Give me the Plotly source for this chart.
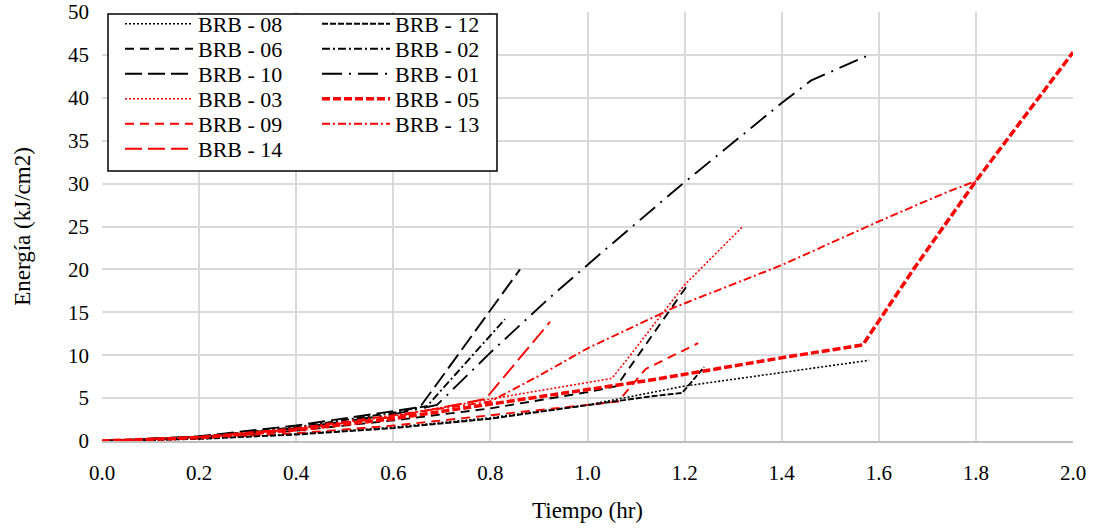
import plotly.graph_objects as go

# ---- data (Tiempo in hr, Energía in kJ/cm2) ----
names = ["BRB - 08", "BRB - 06", "BRB - 10", "BRB - 03", "BRB - 09", "BRB - 14",
         "BRB - 12", "BRB - 02", "BRB - 01", "BRB - 05", "BRB - 13"]

t_08 = [0, 0.2, 0.4, 0.6, 0.8, 1.0, 1.2, 1.4, 1.58]
e_08 = [0, 0.25, 0.8, 1.6, 2.7, 4.2, 6.4, 8.0, 9.4]

t_06 = [0, 0.2, 0.4, 0.6, 0.8, 1.0, 1.06, 1.205]
e_06 = [0, 0.35, 1.2, 2.4, 3.8, 5.7, 6.4, 18.1]

t_10 = [0, 0.2, 0.4, 0.6, 0.655, 0.861]
e_10 = [0, 0.55, 1.8, 3.5, 3.95, 20.0]

t_03 = [0, 0.2, 0.4, 0.6, 0.79, 1.05, 1.08, 1.2, 1.318]
e_03 = [0, 0.4, 1.4, 2.9, 4.8, 7.3, 9.4, 18.2, 24.9]

t_09 = [0, 0.2, 0.4, 0.6, 0.8, 1.0, 1.063, 1.12, 1.228]
e_09 = [0, 0.3, 0.9, 1.8, 3.0, 4.2, 4.6, 8.4, 11.4]

t_14 = [0, 0.2, 0.4, 0.6, 0.79, 0.923]
e_14 = [0, 0.4, 1.4, 2.8, 4.9, 13.9]

t_12 = [0, 0.2, 0.4, 0.6, 0.8, 1.0, 1.13, 1.195, 1.24]
e_12 = [0, 0.25, 0.75, 1.5, 2.6, 4.2, 5.2, 5.6, 8.6]

t_02 = [0, 0.2, 0.4, 0.6, 0.67, 0.83]
e_02 = [0, 0.5, 1.6, 3.3, 4.1, 14.2]

t_01 = [0, 0.2, 0.4, 0.6, 0.69, 0.80, 0.92, 1.03, 1.19, 1.40, 1.46, 1.58]
e_01 = [0, 0.45, 1.5, 3.1, 4.2, 10.3, 16.6, 22.0, 29.7, 39.4, 42.0, 45.0]

t_05 = [0, 0.2, 0.4, 0.6, 0.8, 1.0, 1.13, 1.4, 1.567, 1.67, 1.80, 2.0]
e_05 = [0, 0.4, 1.3, 2.6, 4.3, 6.0, 7.1, 9.7, 11.2, 19.9, 30.3, 45.3]

t_13 = [0, 0.2, 0.4, 0.6, 0.80, 0.9, 1.0, 1.18, 1.4, 1.6, 1.74, 1.80]
e_13 = [0, 0.45, 1.5, 3.0, 4.6, 7.6, 10.8, 15.6, 20.5, 25.6, 29.0, 30.3]

x_ticks = [0.0, 0.2, 0.4, 0.6, 0.8, 1.0, 1.2, 1.4, 1.6, 1.8, 2.0]
y_ticks = [0, 5, 10, 15, 20, 25, 30, 35, 40, 45, 50]

series = [
    (t_08, e_08, "black", 1.6, "2px,2px"),
    (t_06, e_06, "black", 1.9, "9px,6px"),
    (t_10, e_10, "black", 1.9, "17px,6px"),
    (t_03, e_03, "red", 1.6, "2px,2px"),
    (t_09, e_09, "red", 1.9, "9px,6px"),
    (t_14, e_14, "red", 1.9, "17px,6px"),
    (t_12, e_12, "black", 1.9, "6px,2px"),
    (t_02, e_02, "black", 1.9, "8px,3px,2px,3px"),
    (t_01, e_01, "black", 1.9, "20px,7px,2px,7px"),
    (t_05, e_05, "red", 3.5, "8px,3px"),
    (t_13, e_13, "red", 1.9, "8px,3px,2px,3px"),
]

FONT = "Liberation Serif"

# plot area in pixels (for legend placement)
W, H = 1095, 529
L, R, T, B = 102, 22, 12, 88
PW, PH = W - L - R, H - T - B

def px_to_paper(px, py):
    return (px - L) / PW, (H - B - py) / PH

# legend slots: column 1 and column 2 rows
row_y = [24, 49, 74, 99, 124, 149]
slots = [(120, row_y[i]) for i in range(6)] + [(317, row_y[i]) for i in range(5)]

fig = go.Figure()
legend_layout = {}
for i, ((t, e, col, w, dash), nm) in enumerate(zip(series, names)):
    key = "legend" if i == 0 else f"legend{i+1}"
    fig.add_trace(go.Scatter(x=t, y=e, mode="lines", name=nm,
                             line=dict(color=col, width=w, dash=dash),
                             legend=key, hoverinfo="skip"))
    lx, ly = px_to_paper(*slots[i])
    legend_layout[key] = dict(x=lx, y=ly, xanchor="left", yanchor="middle",
                              bgcolor="rgba(0,0,0,0)", borderwidth=0,
                              font=dict(family=FONT, size=22, color="black"),
                              itemwidth=68, itemclick=False)

bx0, by0 = px_to_paper(108, 171)
bx1, by1 = px_to_paper(497, 14)
fig.add_shape(type="rect", xref="paper", yref="paper", x0=bx0, y0=by0, x1=bx1, y1=by1,
              line=dict(color="black", width=1.5), fillcolor="white", layer="above")

fig.update_layout(
    width=W, height=H,
    margin=dict(l=L, r=R, t=T, b=B, autoexpand=False),
    paper_bgcolor="white", plot_bgcolor="white",
    font=dict(family=FONT, color="black"),
    showlegend=True,
    **legend_layout,
)
fig.update_xaxes(range=[0, 2], tickvals=x_ticks, tickformat=".1f", automargin=False,
                 showgrid=True, gridcolor="#d9d9d9", gridwidth=1.5,
                 zeroline=False, showline=True, linecolor="#bfbfbf", linewidth=2,
                 mirror=False, ticks="", ticklabelstandoff=12,
                 tickfont=dict(family=FONT, size=21, color="black"),
                 title=dict(text="Tiempo (hr)", font=dict(family=FONT, size=23, color="black"),
                            standoff=18))
fig.update_yaxes(range=[0, 50], tickvals=y_ticks, automargin=False,
                 showgrid=True, gridcolor="#d9d9d9", gridwidth=1.5,
                 zeroline=False, showline=False, ticks="", ticklabelstandoff=12,
                 tickfont=dict(family=FONT, size=21, color="black"),
                 title=dict(text="Energía (kJ/cm2)", font=dict(family=FONT, size=23, color="black"),
                            standoff=30))
fig.write_html("out.html", config={"displayModeBar": False},
               post_script="document.body.style.margin='0px';document.body.style.overflow='hidden';")
